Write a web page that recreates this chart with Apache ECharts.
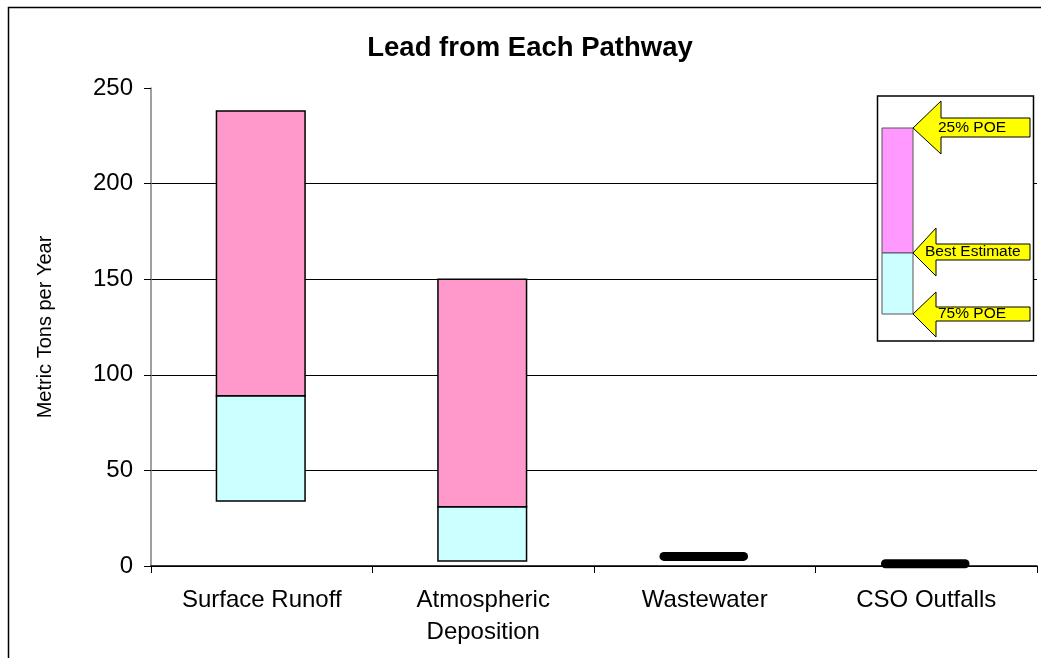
<!DOCTYPE html>
<html>
<head>
<meta charset="utf-8">
<script src="https://cdn.jsdelivr.net/npm/echarts@6/dist/echarts.min.js"></script>
<style>
  html, body { margin: 0; padding: 0; background: #fff; }
  #chart-container { width: 1041px; height: 658px; }
</style>
</head>
<body>
<div id="chart-container"></div>
<script>
var categories = ['Surface Runoff', 'Atmospheric\nDeposition', 'Wastewater', 'CSO Outfalls'];
// 75% POE (low), best estimate, 25% POE (high), metric tons per year
var lowPOE = [34, 2.6, 5, 1.2];
var bestEstimate = [89, 31, 5, 1.2];
var highPOE = [238, 150, 5, 1.2];
var yTicks = [0, 50, 100, 150, 200, 250];

var dom = document.getElementById('chart-container');
var myChart = echarts.init(dom, null, { renderer: 'canvas' });

var font = 'Liberation Sans, Arial, sans-serif';

var rangeData = categories.map(function (c, i) {
    return [i, lowPOE[i], bestEstimate[i], highPOE[i]];
});

function renderRange(params, api) {
    var i = api.value(0);
    var pLow = api.coord([i, api.value(1)]);
    var pBest = api.coord([i, api.value(2)]);
    var pHigh = api.coord([i, api.value(3)]);
    var w = api.size([1, 0])[0] * 0.4;
    var x = pLow[0] - w / 2 - 1;
    // pathways with no spread are drawn as a thick rounded dash
    if (pLow[1] - pHigh[1] < 3) {
        return {
            type: 'rect',
            shape: { x: x, y: pBest[1] - 4.5, width: w, height: 9, r: 4.5 },
            style: { fill: '#000' }
        };
    }
    return {
        type: 'group',
        children: [
            {
                type: 'rect',
                shape: { x: x, y: pBest[1], width: w, height: pLow[1] - pBest[1] },
                style: { fill: '#CCFFFF', stroke: '#000', lineWidth: 1.5 }
            },
            {
                type: 'rect',
                shape: { x: x, y: pHigh[1], width: w, height: pBest[1] - pHigh[1] },
                style: { fill: '#FF99CC', stroke: '#000', lineWidth: 1.5 }
            }
        ]
    };
}

function arrow(tipX, tipY, headX, headTop, headBot, shaftTop, shaftBot, endX) {
    return {
        type: 'polygon',
        shape: {
            points: [[tipX, tipY], [headX, headTop], [headX, shaftTop], [endX, shaftTop],
                [endX, shaftBot], [headX, shaftBot], [headX, headBot]]
        },
        style: { fill: '#FFFF00', stroke: '#000', lineWidth: 1 }
    };
}

var legendText = function (x, y, t) {
    return {
        type: 'text', x: x, y: y,
        style: { text: t, fill: '#000', font: '15.5px ' + font, textVerticalAlign: 'middle' }
    };
};

var option = {
    animation: false,
    title: {
        text: 'Lead from Each Pathway',
        left: 525, top: 29, textAlign: 'center',
        textStyle: { fontFamily: font, fontSize: 27.5, fontWeight: 'bold', color: '#000' }
    },
    grid: { left: 151, right: 4, top: 88, bottom: 92, containLabel: false },
    xAxis: {
        type: 'category',
        data: categories,
        boundaryGap: true,
        axisLine: { lineStyle: { color: '#000', width: 1.5 } },
        axisTick: { show: true, length: 7, lineStyle: { color: '#000' } },
        axisLabel: {
            color: '#000', fontFamily: font, fontSize: 24, lineHeight: 32, margin: 18
        },
        splitLine: { show: false }
    },
    yAxis: {
        type: 'value',
        min: 0, max: 250, interval: 50,
        name: 'Metric Tons per Year',
        nameLocation: 'middle',
        nameGap: 96,
        nameTextStyle: { color: '#000', fontFamily: font, fontSize: 20 },
        axisLine: { show: true, lineStyle: { color: '#808080', width: 1.5 } },
        axisTick: { show: true, length: 7, lineStyle: { color: '#000' } },
        axisLabel: {
            color: '#000', fontFamily: font, fontSize: 24, margin: 18,
            customValues: yTicks
        },
        splitLine: { show: true, showMaxLine: false, lineStyle: { color: '#000', width: 1 } }
    },
    series: [
        {
            name: 'Range',
            type: 'custom',
            renderItem: renderRange,
            data: rangeData,
            encode: { x: 0, y: [1, 2, 3] },
            z: 5
        }
    ],
    graphic: [
        {
            type: 'rect',
            shape: { x: 8.5, y: 7.5, width: 1200, height: 800 },
            style: { fill: 'none', stroke: '#000', lineWidth: 1.5 },
            silent: true
        },
        {
            type: 'rect',
            shape: { x: 877.5, y: 96, width: 156, height: 245 },
            style: { fill: '#fff', stroke: '#000', lineWidth: 1.5 },
            z: 10
        },
        {
            type: 'rect',
            shape: { x: 882, y: 128, width: 31, height: 125 },
            style: { fill: '#FF99FF', stroke: '#555', lineWidth: 1 },
            z: 11
        },
        {
            type: 'rect',
            shape: { x: 882, y: 253, width: 31, height: 61 },
            style: { fill: '#CCFFFF', stroke: '#555', lineWidth: 1 },
            z: 11
        },
        Object.assign(arrow(913, 128, 941, 101, 154, 118, 137, 1030), { z: 12 }),
        Object.assign(arrow(913, 253, 936, 228, 276, 244, 260, 1030), { z: 12 }),
        Object.assign(arrow(913, 314, 936, 292, 337, 307, 321, 1030), { z: 12 }),
        Object.assign(legendText(938, 128, '25% POE'), { z: 13 }),
        Object.assign(legendText(925, 252, 'Best Estimate'), { z: 13 }),
        Object.assign(legendText(938, 314, '75% POE'), { z: 13 })
    ]
};

myChart.setOption(option);
window.addEventListener('resize', myChart.resize);
</script>
</body>
</html>
